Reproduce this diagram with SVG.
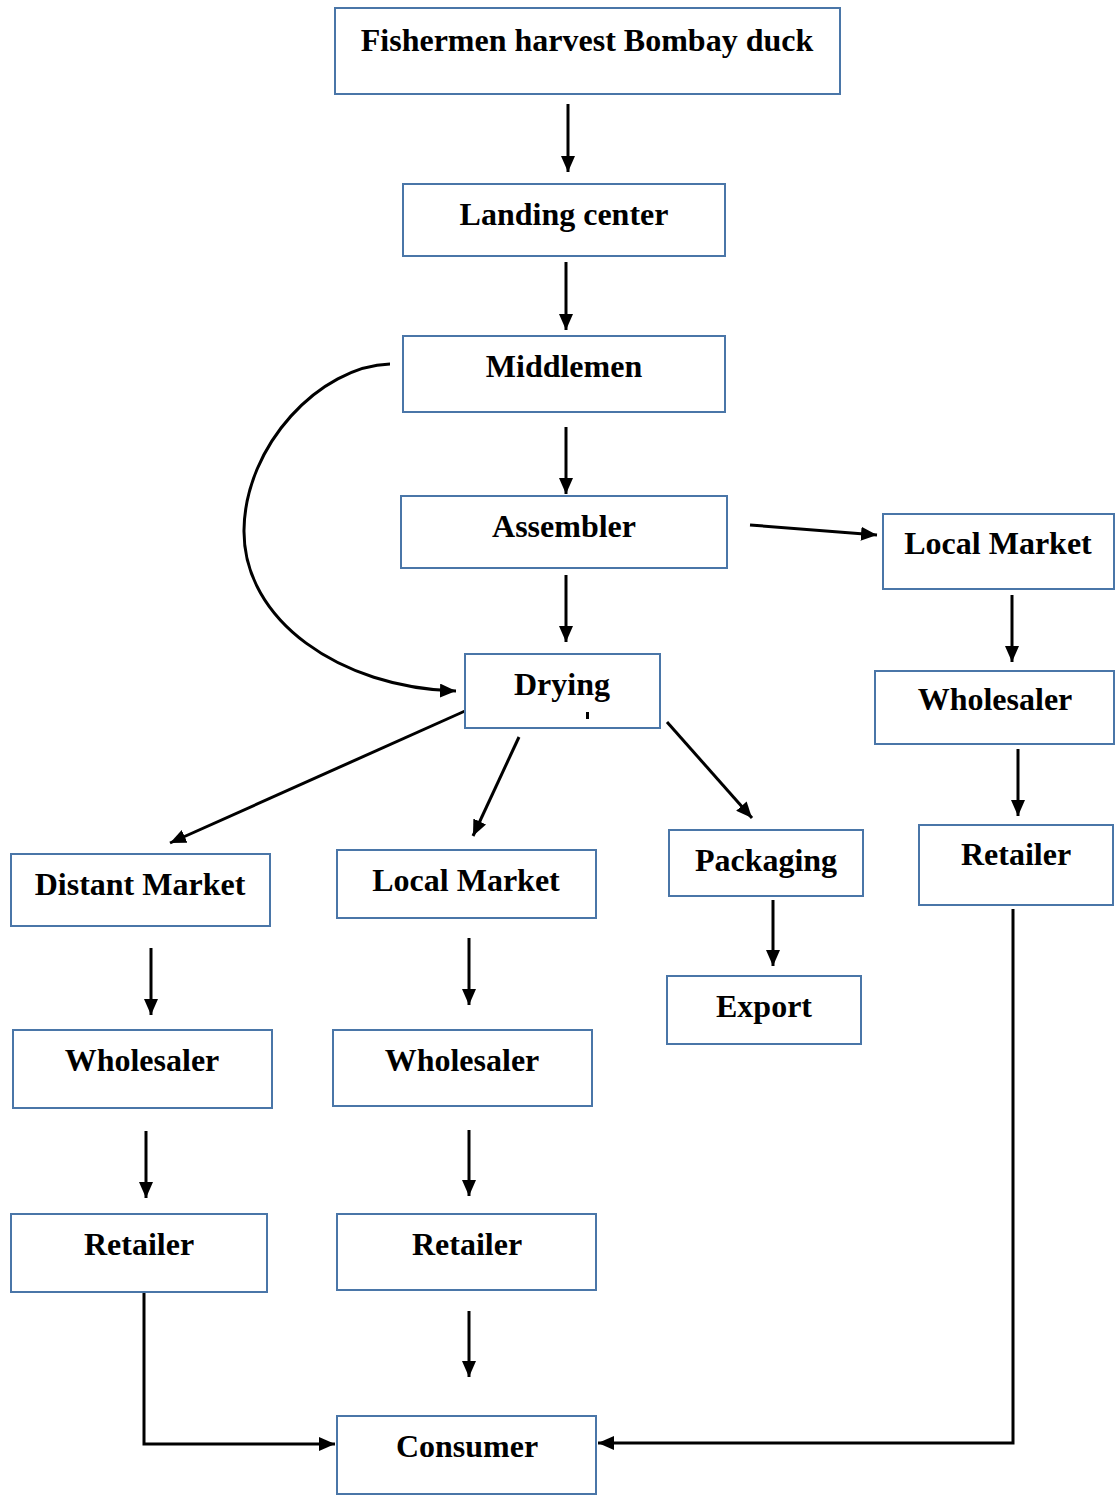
<svg xmlns="http://www.w3.org/2000/svg" width="1120" height="1495" viewBox="0 0 1120 1495">
<style>
.box{fill:#fff;stroke:#4a76a8;stroke-width:2}
.lbl{font-family:"Liberation Serif","Times New Roman",serif;font-weight:bold;font-size:32px;fill:#000;text-anchor:middle}
.c{fill:none;stroke:#000;stroke-width:3}
</style>
<defs>
<marker id="ah" markerUnits="userSpaceOnUse" markerWidth="18" markerHeight="14" refX="16" refY="7" orient="auto">
<path d="M0,0 L16,7 L0,14 Z" fill="#000"/>
</marker>
</defs>
<rect width="1120" height="1495" fill="#fff"/>
<g id="connectors">
<line class="c" x1="568" y1="104" x2="568" y2="172" marker-end="url(#ah)"/>
<line class="c" x1="566" y1="262" x2="566" y2="330" marker-end="url(#ah)"/>
<line class="c" x1="566" y1="427" x2="566" y2="494" marker-end="url(#ah)"/>
<line class="c" x1="750" y1="525" x2="877" y2="535" marker-end="url(#ah)"/>
<line class="c" x1="566" y1="575" x2="566" y2="642" marker-end="url(#ah)"/>
<line class="c" x1="1012" y1="595" x2="1012" y2="662" marker-end="url(#ah)"/>
<line class="c" x1="1018" y1="749" x2="1018" y2="816" marker-end="url(#ah)"/>
<path class="c" d="M390,364 C320,366 245,445 244,530 C243,620 340,688 456,691" marker-end="url(#ah)"/>
<line class="c" x1="465" y1="711" x2="170" y2="843" marker-end="url(#ah)"/>
<line class="c" x1="519" y1="737" x2="473" y2="836" marker-end="url(#ah)"/>
<line class="c" x1="667" y1="722" x2="752" y2="818" marker-end="url(#ah)"/>
<line class="c" x1="773" y1="900" x2="773" y2="966" marker-end="url(#ah)"/>
<line class="c" x1="151" y1="948" x2="151" y2="1015" marker-end="url(#ah)"/>
<line class="c" x1="469" y1="938" x2="469" y2="1005" marker-end="url(#ah)"/>
<line class="c" x1="146" y1="1131" x2="146" y2="1198" marker-end="url(#ah)"/>
<line class="c" x1="469" y1="1130" x2="469" y2="1196" marker-end="url(#ah)"/>
<line class="c" x1="469" y1="1311" x2="469" y2="1377" marker-end="url(#ah)"/>
<polyline class="c" points="144,1290 144,1444 335,1444" marker-end="url(#ah)"/>
<polyline class="c" points="1013,909 1013,1443 598,1443" marker-end="url(#ah)"/>
</g>
<g id="n1"><rect class="box" x="335" y="8" width="505" height="86"/><text class="lbl" x="587" y="51">Fishermen harvest Bombay duck</text></g>
<g id="n2"><rect class="box" x="403" y="184" width="322" height="72"/><text class="lbl" x="564" y="225">Landing center</text></g>
<g id="n3"><rect class="box" x="403" y="336" width="322" height="76"/><text class="lbl" x="564" y="377">Middlemen</text></g>
<g id="n4"><rect class="box" x="401" y="496" width="326" height="72"/><text class="lbl" x="564" y="537">Assembler</text></g>
<g id="n5"><rect class="box" x="883" y="514" width="231" height="75"/><text class="lbl" x="998" y="554">Local Market</text></g>
<g id="n6"><rect class="box" x="465" y="654" width="195" height="74"/><text class="lbl" x="562" y="695">Drying</text><rect x="586" y="712" width="3" height="7" fill="#000"/></g>
<g id="n7"><rect class="box" x="875" y="671" width="239" height="73"/><text class="lbl" x="995" y="710">Wholesaler</text></g>
<g id="n8"><rect class="box" x="919" y="825" width="194" height="80"/><text class="lbl" x="1016" y="865">Retailer</text></g>
<g id="n9"><rect class="box" x="11" y="854" width="259" height="72"/><text class="lbl" x="140" y="895">Distant Market</text></g>
<g id="n10"><rect class="box" x="337" y="850" width="259" height="68"/><text class="lbl" x="466" y="891">Local Market</text></g>
<g id="n11"><rect class="box" x="669" y="830" width="194" height="66"/><text class="lbl" x="766" y="871">Packaging</text></g>
<g id="n12"><rect class="box" x="667" y="976" width="194" height="68"/><text class="lbl" x="764" y="1017">Export</text></g>
<g id="n13"><rect class="box" x="13" y="1030" width="259" height="78"/><text class="lbl" x="142" y="1071">Wholesaler</text></g>
<g id="n14"><rect class="box" x="333" y="1030" width="259" height="76"/><text class="lbl" x="462" y="1071">Wholesaler</text></g>
<g id="n15"><rect class="box" x="11" y="1214" width="256" height="78"/><text class="lbl" x="139" y="1255">Retailer</text></g>
<g id="n16"><rect class="box" x="337" y="1214" width="259" height="76"/><text class="lbl" x="467" y="1255">Retailer</text></g>
<g id="n17"><rect class="box" x="337" y="1416" width="259" height="78"/><text class="lbl" x="467" y="1457">Consumer</text></g>
</svg>
